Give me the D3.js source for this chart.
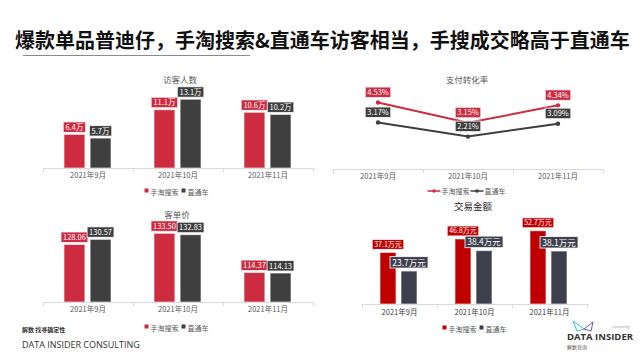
<!DOCTYPE html>
<html>
<head>
<meta charset="utf-8">
<script src="https://cdn.jsdelivr.net/npm/d3@7"></script>
<style>
  body { margin: 0; background: #fff; }
  svg { display: block; font-family: "Noto Sans CJK SC", "Noto Sans", sans-serif; }
</style>
</head>
<body>
<svg id="chart" width="641" height="361"></svg>
<script>
"use strict";

// data
var months = ["2021年9月", "2021年10月", "2021年11月"];
var seriesNames = ["手淘搜索", "直通车"];

var visitorsSearch = [6.4, 11.1, 10.6];
var visitorsTrain = [5.7, 13.1, 10.2];

var convSearch = [4.53, 3.15, 4.34];
var convTrain = [3.17, 2.21, 3.09];

var priceSearch = [128.06, 133.50, 114.37];
var priceTrain = [130.57, 132.83, 114.13];

var amountSearch = [37.1, 46.8, 52.7];
var amountTrain = [23.7, 38.4, 38.1];

var svg = d3.select("#chart");

// header
svg.append("text")
  .attr("x", 15)
  .attr("y", 48)
  .attr("font-size", 20)
  .attr("font-weight", "bold")
  .attr("fill", "#111")
  .text("爆款单品普迪仔，手淘搜索&直通车访客相当，手搜成交略高于直通车");

svg.append("line")
  .attr("x1", 23).attr("x2", 250)
  .attr("y1", 55.5).attr("y2", 55.5)
  .attr("stroke", "#8a8a8a")
  .attr("stroke-width", 1);

function addLabel(g, cx, bottom, text, fill, size) {
  let t = g.append("text")
    .attr("x", cx)
    .attr("y", bottom - 2.5)
    .attr("text-anchor", "middle")
    .attr("font-size", size)
    .attr("fill", "#fff")
    .text(text);
  let bb = t.node().getBBox();
  g.insert("rect", function() { return t.node(); })
    .attr("x", cx - bb.width / 2 - 2)
    .attr("y", bottom - size - 3)
    .attr("width", bb.width + 4)
    .attr("height", size + 3)
    .attr("fill", fill)
    .attr("stroke", "#fff")
    .attr("stroke-opacity", 0.8)
    .attr("stroke-width", 1);
}

function drawAxis(g, x, baseY, labelDy, labelColor) {
  g.append("line")
    .attr("x1", x.range()[0]).attr("x2", x.range()[1])
    .attr("y1", baseY + 0.5).attr("y2", baseY + 0.5)
    .attr("stroke", "#d9d9d9");
  let edges = x.domain().map(function(d) { return x(d); }).concat([x.range()[1]]);
  g.selectAll(".tick-edge").data(edges)
    .enter()
    .append("line")
    .attr("x1", function(d) { return d + 0.5; })
    .attr("x2", function(d) { return d + 0.5; })
    .attr("y1", baseY)
    .attr("y2", baseY + 4)
    .attr("stroke", "#d9d9d9");
  g.selectAll(".xlab").data(x.domain())
    .enter()
    .append("text")
    .attr("x", function(d) { return x(d) + x.bandwidth() / 2; })
    .attr("y", baseY + labelDy)
    .attr("text-anchor", "middle")
    .attr("font-size", 7.5)
    .attr("fill", labelColor)
    .text(function(d) { return d; });
}

function drawSquareLegend(g, cx, y, colors, size) {
  let lg = g.append("g");
  let xPos = 0;
  seriesNames.forEach(function(name, i) {
    lg.append("rect")
      .attr("x", xPos).attr("y", y - size + 0.5)
      .attr("width", size - 1).attr("height", size - 1)
      .attr("fill", colors[i]);
    let t = lg.append("text")
      .attr("x", xPos + size + 1)
      .attr("y", y + 1.5)
      .attr("font-size", size + 2)
      .attr("fill", "#595959")
      .text(name);
    xPos += size + 1 + t.node().getBBox().width + 3;
  });
  lg.attr("transform", "translate(" + (cx - xPos / 2) + ",0)");
}

function drawBarChart(cfg) {
  let g = svg.append("g");
  let x = d3.scaleBand().domain(months).range(cfg.xRange);
  let inner = d3.scaleBand().domain(seriesNames).range(cfg.innerRange).paddingInner(cfg.innerPad);
  let y = d3.scaleLinear().domain(cfg.yDomain).range([cfg.baseY, cfg.yTop]);

  g.append("text")
    .attr("x", cfg.titleX).attr("y", cfg.titleY)
    .attr("text-anchor", "middle")
    .attr("font-size", cfg.titleSize)
    .attr("fill", cfg.titleColor)
    .text(cfg.title);

  [cfg.a, cfg.b].forEach(function(vals, si) {
    g.selectAll(".bar" + si).data(vals)
      .enter()
      .append("rect")
      .attr("x", function(d, i) { return x(months[i]) + inner(seriesNames[si]); })
      .attr("y", function(d) { return y(d); })
      .attr("width", inner.bandwidth())
      .attr("height", function(d) { return cfg.baseY - y(d); })
      .attr("fill", cfg.colors[si])
      .attr("stroke", "#fff")
      .attr("stroke-opacity", 0.6);
  });

  drawAxis(g, x, cfg.baseY, cfg.labelDy, cfg.axisColor);

  [cfg.a, cfg.b].forEach(function(vals, si) {
    vals.forEach(function(d, i) {
      let cx = x(months[i]) + inner(seriesNames[si]) + inner.bandwidth() / 2;
      addLabel(g, cx, y(d) - cfg.labelGap, cfg.fmt(d), cfg.colors[si], cfg.labelSize[si]);
    });
  });

  drawSquareLegend(g, cfg.legendX, cfg.legendY, cfg.colors, 5);
}

// 访客人数
drawBarChart({
  title: "访客人数", titleX: 180, titleY: 83, titleSize: 8.5, titleColor: "#595959",
  a: visitorsSearch, b: visitorsTrain,
  xRange: [43, 313], innerRange: [21, 68], innerPad: 0.2,
  yDomain: [0, 16], baseY: 168, yTop: 84,
  colors: ["#cc2b40", "#3f3f3f"], axisColor: "#595959",
  labelDy: 10, labelGap: 2, labelSize: [7.5, 7.5],
  fmt: function(d) { return d + "万"; },
  legendX: 178, legendY: 193
});

// 客单价
drawBarChart({
  title: "客单价", titleX: 177, titleY: 218, titleSize: 8.5, titleColor: "#595959",
  a: priceSearch, b: priceTrain,
  xRange: [43, 313], innerRange: [21, 68], innerPad: 0.2,
  yDomain: [100, 140], baseY: 302, yTop: 220,
  colors: ["#cc2b40", "#3f3f3f"], axisColor: "#595959",
  labelDy: 10, labelGap: 2, labelSize: [7.5, 7.5],
  fmt: function(d) { return d.toFixed(2); },
  legendX: 178, legendY: 329
});

// 交易金额
drawBarChart({
  title: "交易金额", titleX: 473, titleY: 210, titleSize: 9.5, titleColor: "#262626",
  a: amountSearch, b: amountTrain,
  xRange: [362, 587], innerRange: [18, 55], innerPad: 0.24,
  yDomain: [0, 60], baseY: 304, yTop: 220.6,
  colors: ["#c00000", "#3d3f4d"], axisColor: "#404040",
  labelDy: 11, labelGap: 3, labelSize: [7, 8.5],
  fmt: function(d) { return d + "万元"; },
  legendX: 476, legendY: 330
});

// 支付转化率
(function() {
  let g = svg.append("g");
  let colors = ["#cc2b40", "#3f3f3f"];
  let x = d3.scaleBand().domain(months).range([333, 603]);
  let y = d3.scaleLinear().domain([0, 6]).range([169, 81]);
  let cx = function(i) { return x(months[i]) + x.bandwidth() / 2; };

  g.append("text")
    .attr("x", 467).attr("y", 83)
    .attr("text-anchor", "middle")
    .attr("font-size", 8.5)
    .attr("fill", "#595959")
    .text("支付转化率");

  drawAxis(g, x, 169, 10, "#595959");

  let line = d3.line()
    .x(function(d, i) { return cx(i); })
    .y(function(d) { return y(d); });

  [convSearch, convTrain].forEach(function(vals, si) {
    g.append("path")
      .attr("d", line(vals))
      .attr("fill", "none")
      .attr("stroke", colors[si])
      .attr("stroke-width", 2);
    g.selectAll(".pt" + si).data(vals)
      .enter()
      .append("circle")
      .attr("cx", function(d, i) { return cx(i); })
      .attr("cy", function(d) { return y(d); })
      .attr("r", 2.2)
      .attr("fill", colors[si]);
  });

  [convSearch, convTrain].forEach(function(vals, si) {
    vals.forEach(function(d, i) {
      addLabel(g, cx(i), y(d) - 5, d.toFixed(2) + "%", colors[si], 7.5);
    });
  });

  // legend with line markers
  let lg = g.append("g");
  let xPos = 0;
  seriesNames.forEach(function(name, i) {
    lg.append("line")
      .attr("x1", xPos).attr("x2", xPos + 13)
      .attr("y1", 191).attr("y2", 191)
      .attr("stroke", colors[i]).attr("stroke-width", 1.5);
    lg.append("circle")
      .attr("cx", xPos + 6.5).attr("cy", 191).attr("r", 1.8)
      .attr("fill", colors[i]);
    let t = lg.append("text")
      .attr("x", xPos + 14)
      .attr("y", 193.5)
      .attr("font-size", 7)
      .attr("fill", "#595959")
      .text(name);
    xPos += 14 + t.node().getBBox().width + 1;
  });
  lg.attr("transform", "translate(" + (467 - xPos / 2) + ",0)");
})();

// footer
svg.append("text")
  .attr("x", 22).attr("y", 332)
  .attr("font-size", 6)
  .attr("font-weight", "bold")
  .attr("fill", "#333")
  .text("解数 找寻确定性");

svg.append("text")
  .attr("x", 22).attr("y", 348)
  .attr("font-size", 9)
  .attr("fill", "#333")
  .attr("font-family", "Open Sans, sans-serif")
  .text("DATA INSIDER CONSULTING");

// logo
let logo = svg.append("g");
logo.append("path")
  .attr("d", "M573,321 L584,329 L577,331 Z")
  .attr("fill", "none")
  .attr("stroke", "#33c1c9")
  .attr("stroke-width", 1);
logo.append("path")
  .attr("d", "M584,329 L593,322 L591,331 Z")
  .attr("fill", "none")
  .attr("stroke", "#6a55c9")
  .attr("stroke-width", 1);
logo.append("text")
  .attr("x", 612).attr("y", 328)
  .attr("font-size", 3.5)
  .attr("fill", "#999")
  .text("Consulting");
logo.append("text")
  .attr("x", 567).attr("y", 340)
  .attr("font-size", 9.5)
  .attr("font-weight", "bold")
  .attr("fill", "#333")
  .attr("font-family", "Open Sans, sans-serif")
  .text("DATA INSIDER");
logo.append("text")
  .attr("x", 567).attr("y", 349)
  .attr("font-size", 5)
  .attr("fill", "#555")
  .text("解数咨询");
</script>
</body>
</html>
